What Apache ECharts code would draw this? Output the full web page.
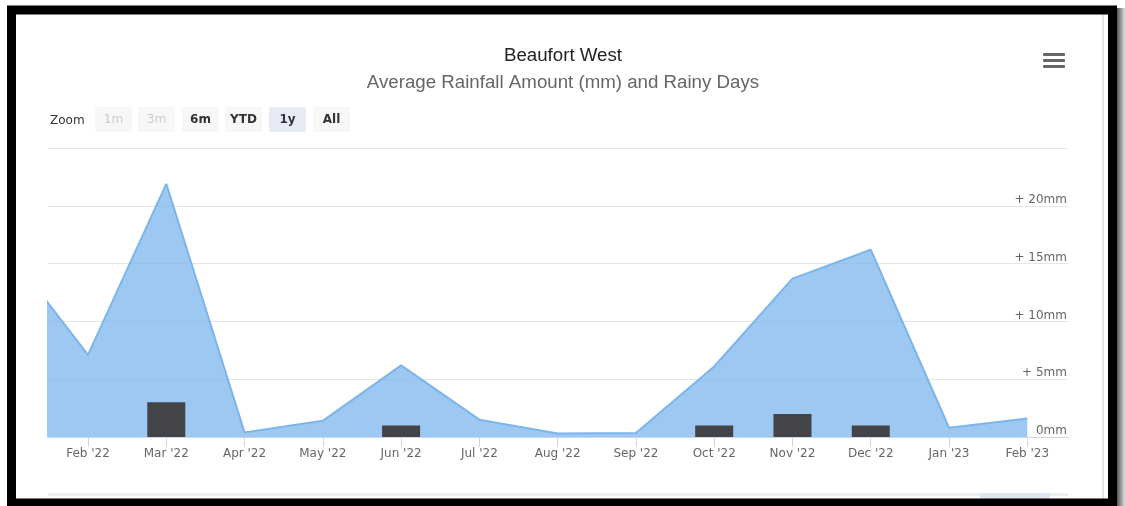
<!DOCTYPE html>
<html>
<head>
<meta charset="utf-8">
<script src="https://cdn.jsdelivr.net/npm/echarts@6/dist/echarts.min.js"></script>
<style>
  html, body { margin: 0; padding: 0; background: #fff; }
  #chart { width: 1125px; height: 506px; }
</style>
</head>
<body>
<div id="chart"></div>
<script>
// months, index 0 = Jan '22 (just left of the visible window)
var monthIndex = [0, 1, 2, 3, 4, 5, 6, 7, 8, 9, 10, 11, 12, 13];
var monthLabels = ["Jan '22", "Feb '22", "Mar '22", "Apr '22", "May '22", "Jun '22", "Jul '22",
  "Aug '22", "Sep '22", "Oct '22", "Nov '22", "Dec '22", "Jan '23", "Feb '23"];
// average rainfall (mm)
var rainfall = [15.9, 7.1, 21.9, 0.4, 1.4, 6.2, 1.5, 0.3, 0.35, 6.1, 13.7, 16.2, 0.8, 1.6];
// rainy days
var rainyDays = [0, 0, 3, 0, 0, 1, 0, 0, 0, 1, 2, 1, 0, 0];
// visible tick months
var tickMonths = [1, 2, 3, 4, 5, 6, 7, 8, 9, 10, 11, 12, 13];

var labelFont = '"DejaVu Sans", sans-serif';

// zoom buttons
var buttons = [
  { t: '1m', x: 95, dis: true },
  { t: '3m', x: 138, dis: true },
  { t: '6m', x: 182 },
  { t: 'YTD', x: 225 },
  { t: '1y', x: 269, sel: true },
  { t: 'All', x: 313 }
];
var btnGraphics = [{
  type: 'text', x: 50, y: 120.5,
  style: { text: 'Zoom', font: '12px ' + labelFont, fill: '#333', verticalAlign: 'middle' }
}];
buttons.forEach(function (b) {
  btnGraphics.push({
    type: 'rect', shape: { x: b.x, y: 107, width: 37, height: 25, r: 2 },
    style: { fill: b.sel ? '#e6ebf5' : '#f7f7f7' }
  });
  btnGraphics.push({
    type: 'text', x: b.x + 18.5, y: 119.5,
    style: {
      text: b.t, font: (b.dis ? '' : 'bold ') + '12px ' + labelFont,
      fill: b.dis ? '#cccccc' : '#333', align: 'center', verticalAlign: 'middle'
    }
  });
});

var chart = echarts.init(document.getElementById('chart'));

var option = {
  animation: false,
  title: {
    text: 'Beaufort West',
    subtext: 'Average Rainfall Amount (mm) and Rainy Days',
    left: 558,
    textAlign: 'center',
    top: 41,
    itemGap: 8,
    textStyle: { fontFamily: '"Liberation Sans", Arial', fontSize: 18.7, fontWeight: 'normal', color: '#222222' },
    subtextStyle: { fontFamily: '"Liberation Sans", Arial', fontSize: 18.7, color: '#666666' }
  },
  grid: { left: 48, right: 57, top: 148, bottom: 69 },
  xAxis: {
    type: 'value',
    min: 0.489,
    max: 13.52,
    splitLine: { show: false },
    axisLine: { lineStyle: { color: '#ccd6eb' } },
    axisTick: { customValues: tickMonths, length: 10, lineStyle: { color: '#ccd6eb' } },
    axisLabel: {
      customValues: tickMonths,
      margin: 11,
      fontFamily: labelFont,
      fontSize: 12,
      color: '#666',
      formatter: function (v) { return monthLabels[Math.round(v)]; }
    }
  },
  yAxis: [{
    type: 'value',
    position: 'right',
    min: 0,
    max: 25,
    interval: 5,
    axisLine: { show: false },
    axisTick: { show: false },
    splitLine: { lineStyle: { color: '#e6e6e6' } },
    axisLabel: {
      inside: true,
      margin: 1,
      verticalAlign: 'bottom',
      fontFamily: labelFont,
      fontSize: 12,
      color: '#666',
      formatter: function (v) {
        if (v === 25) return '';
        return v === 0 ? '0mm' : '+ ' + v + 'mm';
      }
    }
  }, {
    type: 'value',
    min: 0,
    max: 25,
    show: false
  }],
  series: [{
    name: 'Rainfall',
    type: 'line',
    data: monthIndex.map(function (m, i) { return [m, rainfall[i]]; }),
    symbol: 'none',
    clip: true,
    lineStyle: { color: '#7cb5ec', width: 2 },
    areaStyle: { color: '#7cb5ec', opacity: 0.75 },
    z: 2
  }, {
    name: 'Rainy Days',
    type: 'bar',
    yAxisIndex: 1,
    data: monthIndex.map(function (m, i) { return [m, rainyDays[i]]; }),
    barWidth: 38,
    itemStyle: { color: '#434348' },
    z: 3
  }],
  graphic: btnGraphics.concat([
    // menu icon
    { type: 'rect', shape: { x: 1043, y: 53, width: 22, height: 3, r: 1 }, style: { fill: '#666' } },
    { type: 'rect', shape: { x: 1043, y: 59, width: 22, height: 3, r: 1 }, style: { fill: '#666' } },
    { type: 'rect', shape: { x: 1043, y: 65, width: 22, height: 3, r: 1 }, style: { fill: '#666' } },
    // navigator strip at the bottom
    { type: 'rect', shape: { x: 48, y: 493, width: 1020, height: 3 }, style: { fill: '#eeeeee' } },
    { type: 'rect', shape: { x: 980, y: 493, width: 70, height: 6 }, style: { fill: '#dfe5f0' } },
    // page edge line
    { type: 'rect', shape: { x: 1102, y: 14, width: 2, height: 486 }, style: { fill: '#e4e4e4' } },
    // screenshot frame
    { type: 'rect', shape: { x: 11.5, y: 10, width: 1101, height: 493 },
      style: { fill: 'none', stroke: '#000', lineWidth: 9 }, z: 100 },
    { type: 'rect', shape: { x: 1117, y: 8, width: 8, height: 498 },
      style: { fill: new echarts.graphic.LinearGradient(0, 0, 1, 0, [
        { offset: 0, color: '#555' }, { offset: 1, color: '#e0e0e0' }]) }, z: 100 }
  ])
};

chart.setOption(option);
</script>
</body>
</html>
